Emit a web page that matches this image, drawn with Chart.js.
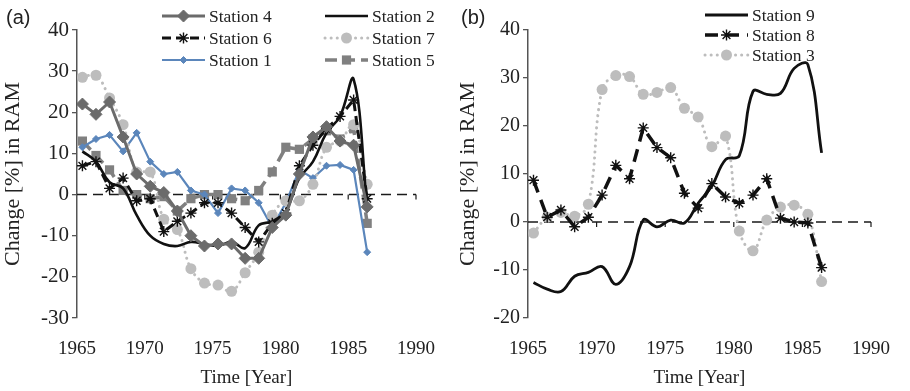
<!DOCTYPE html>
<html>
<head>
<meta charset="utf-8">
<script src="https://cdn.jsdelivr.net/npm/chart.js@4.4.0/dist/chart.umd.min.js"></script>
<style>
  html, body { margin: 0; padding: 0; background: #fff; }
  #wrap { position: relative; width: 910px; height: 391px; }
  .panel { position: absolute; top: 0; width: 455px; height: 391px; }
  #pa { left: 0; }
  #pb { left: 455px; }
  .tag { position: absolute; top: 6px; font: 20px "Liberation Sans", Arial, sans-serif; color: #222; }
</style>
</head>
<body>
<div id="wrap">
  <div class="panel" id="pa"><canvas id="chartA" width="455" height="391"></canvas></div>
  <div class="panel" id="pb"><canvas id="chartB" width="455" height="391"></canvas></div>
  <div class="tag" style="left:6px">(a)</div>
  <div class="tag" style="left:461px">(b)</div>
</div>
<script>
// ===== DATA =====
const years = [1965.4, 1966.4, 1967.4, 1968.4, 1969.4, 1970.4, 1971.4, 1972.4, 1973.4, 1974.4, 1975.4,
               1976.4, 1977.4, 1978.4, 1979.4, 1980.4, 1981.4, 1982.4, 1983.4, 1984.4, 1985.4, 1986.4];
const xTicks = [1965, 1970, 1975, 1980, 1985, 1990];
const yTicksA = [-30, -20, -10, 0, 10, 20, 30, 40];
const yTicksB = [-20, -10, 0, 10, 20, 30, 40];

// panel (a)
const station4 = [22, 19.5, 22.5, 14, 5, 2, 0.5, -4, -10, -12.5, -12, -12, -15.5, -15.5, -8, -5, 5, 14, 16.5, 13, 12, -3];
const station2 = [10.5, 8, 3, 1.5, -5, -10, -12, -12.5, -11.5, -12, -12.5, -11.5, -13, -7.5, -6.5, -4, 4, 8, 15, 19, 28, -3];
const station6 = [7, 8, 1.5, 4, -1.5, -1, -9, -6.5, -4.5, -2, -2, -4.5, -8, -11.5, -7, -4.5, 7, 12, 16, 19, 23, -1];
const station7 = [28.5, 29, 23.5, 17, 5.5, 5.5, -6, -8.5, -18, -21.5, -22, -23.5, -19, -14, -5, -1.5, -1.5, 2.5, 11.5, 13, 17, 2.5];
const station1 = [11.5, 13.5, 14.5, 10.5, 15, 8, 5, 5.5, 1, 0, -4.5, 1.5, 1, -2, -8, -2, 6, 4, 7, 7.2, 6, -14];
const station5 = [13, 9.5, 6, 1, 0, -1, -0.5, -4, -1, 0, 0, -1, -1.5, 1, 5.5, 11.5, 11, 13.5, 15.5, 13.5, 16, -7];

// panel (b)
const station9 = [-12.6, -14, -14.5, -11.3, -10.5, -9.3, -13, -9.3, 0.4, -1, 0.4, -0.2, 3.9, 7.5, 13, 13.8, 27.2, 26.6, 26.8, 32, 32.8, 14.4];
const station8 = [8.7, 1, 2.5, -1, 1, 5.6, 11.8, 9, 19.6, 15.5, 13.4, 6, 2.9, 8, 5.2, 3.9, 5.6, 9, 0.8, 0, -0.2, -9.5];
const station3 = [-2.3, 1, 2, 1.2, 3.7, 27.6, 30.5, 30.3, 26.6, 27, 28, 23.7, 21.9, 15.7, 17.9, -1.9, -6, 0.4, 3.1, 3.5, 1.6, -12.4];

const pts = vals => years.map((x, i) => ({ x: x, y: vals[i] }));

// ===== PLUGINS =====
const zeroAxis = {
  id: 'zeroAxis',
  beforeDatasetsDraw(chart) {
    const { ctx, scales: { x, y } } = chart;
    const py = y.getPixelForValue(0);
    ctx.save();
    ctx.strokeStyle = '#1a1a1a';
    ctx.lineWidth = 1.6;
    ctx.setLineDash([10, 6]);
    ctx.beginPath();
    ctx.moveTo(x.left, py);
    ctx.lineTo(x.right, py);
    ctx.stroke();
    ctx.setLineDash([]);
    ctx.lineWidth = 1.2;
    xTicks.slice(1).forEach(v => {
      const px = x.getPixelForValue(v);
      ctx.beginPath();
      ctx.moveTo(px, py);
      ctx.lineTo(px, py + 5);
      ctx.stroke();
    });
    ctx.restore();
  }
};

const boxLegend = {
  id: 'boxLegend',
  afterDraw(chart, args, opts) {
    const ctx = chart.ctx;
    (opts.items || []).forEach(it => {
      const ds = chart.data.datasets[it.ds];
      ctx.save();
      ctx.strokeStyle = ds.borderColor;
      ctx.lineWidth = ds.borderWidth;
      ctx.lineCap = ds.borderCapStyle || 'butt';
      ctx.setLineDash(ds.borderDash || []);
      ctx.beginPath();
      ctx.moveTo(it.x, it.y);
      ctx.lineTo(it.x + 43, it.y);
      ctx.stroke();
      ctx.setLineDash([]);
      ctx.lineCap = 'butt';
      if (ds.pointRadius > 0) {
        ctx.fillStyle = ds.pointBackgroundColor;
        ctx.strokeStyle = ds.pointBorderColor;
        ctx.lineWidth = ds.pointBorderWidth;
        Chart.helpers.drawPoint(ctx, { pointStyle: ds.pointStyle, radius: ds.pointRadius, borderWidth: ds.pointBorderWidth, rotation: 0 }, it.x + 21.5, it.y);
      }
      ctx.fillStyle = '#222';
      ctx.font = '17.5px "Liberation Serif", "Times New Roman", serif';
      ctx.textBaseline = 'middle';
      ctx.fillText(ds.label, it.x + 47, it.y + 1);
      ctx.restore();
    });
  }
};

// ===== SHARED OPTIONS =====
const serif = '"Liberation Serif", "Times New Roman", serif';

function makeOptions(yMin, yTicks, yWidth, padRight, yFont, legendItems) {
  return {
    responsive: false,
    animation: false,
    devicePixelRatio: 1,
    layout: { padding: { top: 30, right: padRight, left: 0, bottom: 0 } },
    plugins: {
      legend: { display: false },
      tooltip: { enabled: false },
      boxLegend: { items: legendItems }
    },
    scales: {
      x: {
        type: 'linear', min: 1965, max: 1990,
        afterBuildTicks: s => { s.ticks = xTicks.map(v => ({ value: v })); },
        grid: { display: false, drawTicks: false },
        border: { display: false },
        ticks: { padding: 20, color: '#222', font: { family: serif, size: 19 }, callback: v => String(v) },
        title: { display: true, text: 'Time [Year]', color: '#222', font: { family: serif, size: 19 }, padding: { top: 0, bottom: 2 } },
        afterFit: s => { s.height = 73; }
      },
      y: {
        min: yMin, max: 40,
        afterBuildTicks: s => { s.ticks = yTicks.map(v => ({ value: v })); },
        grid: { drawOnChartArea: false, drawTicks: true, tickLength: 5, color: '#555', lineWidth: 1.3 },
        border: { display: true, color: '#555', width: 1.5 },
        ticks: { padding: 3, color: '#222', font: { family: serif, size: yFont } },
        title: { display: true, text: 'Change [%] in RAM', color: '#222', font: { family: serif, size: 22 }, padding: { top: 0, bottom: 0 } },
        afterFit: s => { s.width = yWidth; }
      }
    }
  };
}

// ===== CHART (a) =====
new Chart(document.getElementById('chartA'), {
  type: 'line',
  data: {
    datasets: [
      { label: 'Station 4', data: pts(station4), borderColor: '#6b6b6b', borderWidth: 3, tension: 0,
        pointStyle: 'rectRot', pointRadius: 6, pointBackgroundColor: '#6b6b6b', pointBorderColor: '#6b6b6b', pointBorderWidth: 1 },
      { label: 'Station 2', data: pts(station2), borderColor: '#111', borderWidth: 2.6, tension: 0.4,
        pointRadius: 0, pointBackgroundColor: '#111', pointBorderColor: '#111', pointBorderWidth: 0 },
      { label: 'Station 6', data: pts(station6), borderColor: '#111', borderWidth: 3, borderDash: [9, 5], tension: 0,
        pointStyle: 'star', pointRadius: 5.5, pointBackgroundColor: '#111', pointBorderColor: '#111', pointBorderWidth: 1.4 },
      { label: 'Station 7', data: pts(station7), borderColor: '#bdbdbd', borderWidth: 3, borderDash: [0.1, 6], borderCapStyle: 'round', tension: 0.4,
        pointStyle: 'circle', pointRadius: 5.5, pointBackgroundColor: '#bdbdbd', pointBorderColor: '#bdbdbd', pointBorderWidth: 0 },
      { label: 'Station 1', data: pts(station1), borderColor: '#5b86bb', borderWidth: 2.2, tension: 0,
        pointStyle: 'rectRot', pointRadius: 3.5, pointBackgroundColor: '#5b86bb', pointBorderColor: '#5b86bb', pointBorderWidth: 1 },
      { label: 'Station 5', data: pts(station5), borderColor: '#808080', borderWidth: 3.5, borderDash: [12, 6], tension: 0,
        pointStyle: 'rect', pointRadius: 6.5, pointBackgroundColor: '#808080', pointBorderColor: '#808080', pointBorderWidth: 0 }
    ]
  },
  options: makeOptions(-30, yTicksA, 77, 25, 21, [
    { ds: 0, x: 162, y: 16 }, { ds: 2, x: 162, y: 38 }, { ds: 4, x: 162, y: 60 },
    { ds: 1, x: 325, y: 16 }, { ds: 3, x: 325, y: 38 }, { ds: 5, x: 325, y: 60 }
  ]),
  plugins: [zeroAxis, boxLegend]
});

// ===== CHART (b) =====
new Chart(document.getElementById('chartB'), {
  type: 'line',
  data: {
    datasets: [
      { label: 'Station 9', data: pts(station9), borderColor: '#111', borderWidth: 2.8, tension: 0.4,
        pointRadius: 0, pointBackgroundColor: '#111', pointBorderColor: '#111', pointBorderWidth: 0 },
      { label: 'Station 8', data: pts(station8), borderColor: '#111', borderWidth: 3.5, borderDash: [13, 8], tension: 0,
        pointStyle: 'star', pointRadius: 5.5, pointBackgroundColor: '#111', pointBorderColor: '#111', pointBorderWidth: 1.4 },
      { label: 'Station 3', data: pts(station3), borderColor: '#bdbdbd', borderWidth: 3, borderDash: [0.1, 6], borderCapStyle: 'round', tension: 0.4,
        pointStyle: 'circle', pointRadius: 5.5, pointBackgroundColor: '#bdbdbd', pointBorderColor: '#bdbdbd', pointBorderWidth: 0 }
    ]
  },
  options: makeOptions(-20, yTicksB, 73, 20, 20, [
    { ds: 0, x: 250, y: 15 }, { ds: 1, x: 250, y: 35 }, { ds: 2, x: 250, y: 55 }
  ]),
  plugins: [zeroAxis, boxLegend]
});
</script>
</body>
</html>
